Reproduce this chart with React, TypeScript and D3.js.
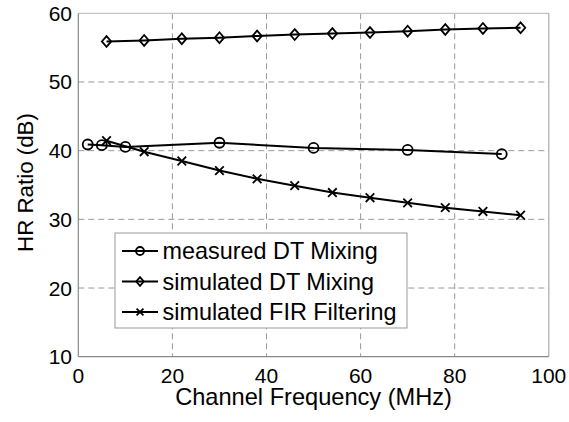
import React from "react";
import * as d3 from "d3";

const measuredX = [2, 5, 10, 30, 50, 70, 90];
const measuredY = [40.9, 40.8, 40.55, 41.15, 40.4, 40.1, 39.5];
const simDTX = [6, 14, 22, 30, 38, 46, 54, 62, 70, 78, 86, 94];
const simDTY = [55.9, 56.05, 56.3, 56.45, 56.7, 56.9, 57.05, 57.2, 57.4, 57.65, 57.8, 57.9];
const firX = [6, 14, 22, 30, 38, 46, 54, 62, 70, 78, 86, 94];
const firY = [41.45, 39.85, 38.5, 37.1, 35.9, 34.9, 33.9, 33.15, 32.4, 31.7, 31.15, 30.6];
const xTicks = [0, 20, 40, 60, 80, 100];
const yTicks = [10, 20, 30, 40, 50, 60];
const legendLabels = ["measured DT Mixing", "simulated DT Mixing", "simulated FIR Filtering"];

const W = 569, H = 422;
const L = 78.3, R = 548.8, T = 13.3, B = 356.7;
const FONT = "'Liberation Sans', Arial, Helvetica, sans-serif";

type Kind = "circle" | "diamond" | "cross";

function Marker({ kind, x, y, s = 1 }: { kind: Kind; x: number; y: number; s?: number }) {
  if (kind === "circle")
    return <circle cx={x} cy={y} r={5 * s} fill="none" stroke="#000" strokeWidth={1.8} />;
  if (kind === "diamond") {
    const w = 4.7 * s, h = 5.4 * s;
    return (
      <path
        d={`M${x},${y - h}L${x + w},${y}L${x},${y + h}L${x - w},${y}Z`}
        fill="none"
        stroke="#000"
        strokeWidth={1.8}
      />
    );
  }
  const c = 4.3 * s;
  return (
    <path
      d={`M${x - c},${y - c}L${x + c},${y + c}M${x - c},${y + c}L${x + c},${y - c}`}
      stroke="#000"
      strokeWidth={1.8}
    />
  );
}

export default function App() {
  const x = d3.scaleLinear().domain([0, 100]).range([L, R]);
  const y = d3.scaleLinear().domain([10, 60]).range([B, T]);
  const line = d3
    .line<[number, number]>()
    .x((d) => x(d[0]))
    .y((d) => y(d[1]));

  const series: { xs: number[]; ys: number[]; kind: Kind }[] = [
    { xs: measuredX, ys: measuredY, kind: "circle" },
    { xs: simDTX, ys: simDTY, kind: "diamond" },
    { xs: firX, ys: firY, kind: "cross" },
  ];
  const kinds: Kind[] = ["circle", "diamond", "cross"];

  const legX = 115, legY = 233, legW = 292, legH = 95;
  const rowY = [251, 281.5, 312];

  return (
    <svg
      width={W}
      height={H}
      style={{ position: "absolute", left: 0, top: 0, background: "#fff" }}
      fontFamily={FONT}
    >
      <rect x={0} y={0} width={W} height={H} fill="#fff" />
      {/* grid */}
      {xTicks.slice(1, -1).map((t) => (
        <line key={"gx" + t} x1={x(t)} x2={x(t)} y1={T} y2={B} stroke="#999" strokeWidth={1} strokeDasharray="6,4" />
      ))}
      {yTicks.slice(1, -1).map((t) => (
        <line key={"gy" + t} x1={L} x2={R} y1={y(t)} y2={y(t)} stroke="#999" strokeWidth={1} strokeDasharray="6,4" />
      ))}
      {/* frame */}
      <line x1={L} x2={R} y1={T} y2={T} stroke="#c4c4c4" strokeWidth={1.2} />
      <line x1={R} x2={R} y1={T} y2={B} stroke="#aaa" strokeWidth={1.2} />
      <line x1={L} x2={L} y1={T} y2={B} stroke="#888" strokeWidth={1.2} />
      <line x1={L} x2={R} y1={B} y2={B} stroke="#888" strokeWidth={1.2} />

      {/* series */}
      {series.map((s, i) => {
        const pts = s.xs.map((v, j) => [v, s.ys[j]] as [number, number]);
        return (
          <g key={i}>
            <path d={line(pts) || ""} fill="none" stroke="#000" strokeWidth={2} />
            {pts.map((p, j) => (
              <Marker key={j} kind={s.kind} x={x(p[0])} y={y(p[1])} />
            ))}
          </g>
        );
      })}

      {/* tick labels */}
      {xTicks.map((t) => (
        <text key={"tx" + t} x={x(t)} y={382.5} fontSize={21} textAnchor="middle" fill="#000">
          {t}
        </text>
      ))}
      {yTicks.map((t) => (
        <text key={"ty" + t} x={72} y={y(t) + 7.5} fontSize={21} textAnchor="end" fill="#000">
          {t}
        </text>
      ))}

      {/* axis titles */}
      <text x={x(50)} y={404.5} fontSize={23.6} textAnchor="middle" fill="#000">
        Channel Frequency (MHz)
      </text>
      <text
        transform={`translate(33,182.5) rotate(-90)`}
        fontSize={22.3}
        textAnchor="middle"
        fill="#000"
      >
        HR Ratio (dB)
      </text>

      {/* legend */}
      <rect x={legX} y={legY} width={legW} height={legH} fill="#fff" stroke="#999" strokeWidth={1} />
      {legendLabels.map((lab, i) => (
        <g key={lab}>
          <line x1={122} x2={158} y1={rowY[i]} y2={rowY[i]} stroke="#000" strokeWidth={2} />
          <Marker kind={kinds[i]} x={140} y={rowY[i]} s={0.8} />
          <text x={162.5} y={rowY[i] + 8.3} fontSize={23.4} fill="#000">
            {lab}
          </text>
        </g>
      ))}
    </svg>
  );
}
